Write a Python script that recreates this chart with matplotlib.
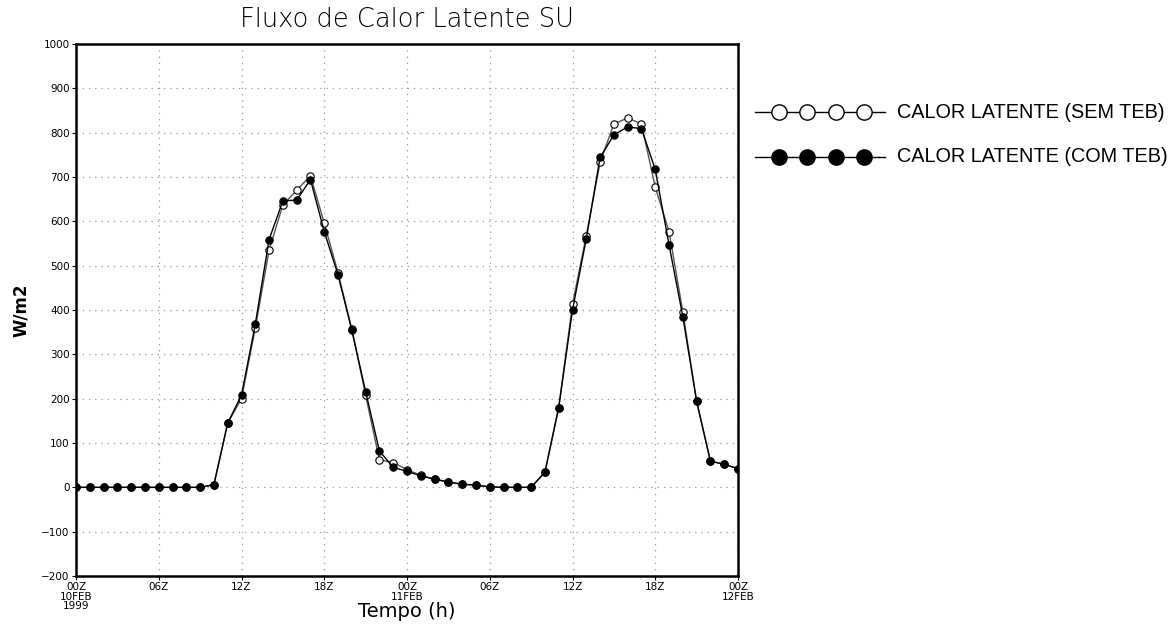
import matplotlib
matplotlib.use("Agg")
import matplotlib.pyplot as plt
from matplotlib.lines import Line2D

# Hourly series, 00Z 10FEB 1999 -> 00Z 12FEB 1999 (49 points)
hours = list(range(49))

sem_teb = [0, 0, 0, 0, 0, 0, 0, 0, 0, 0,
           6, 145, 200, 359, 535, 637, 670, 703, 596, 484,
           357, 208, 62, 56, 40, 27, 19, 12, 7, 5,
           1, 0, 0, 0, 34, 180, 413, 568, 733, 820,
           833, 820, 677, 577, 396, 194, 59, 52, 42]

com_teb = [0, 0, 0, 0, 0, 0, 0, 0, 0, 0,
           6, 145, 208, 368, 559, 646, 648, 694, 577, 479,
           354, 216, 82, 45, 36, 26, 18, 12, 7, 5,
           1, 0, 0, 0, 34, 180, 400, 561, 744, 795,
           813, 809, 717, 547, 385, 194, 59, 52, 42]

xtick_pos = [0, 6, 12, 18, 24, 30, 36, 42, 48]
xtick_labels = ["00Z\n10FEB\n1999", "06Z", "12Z", "18Z", "00Z\n11FEB",
                "06Z", "12Z", "18Z", "00Z\n12FEB"]
ytick_pos = list(range(-200, 1001, 100))
ytick_labels = [str(v).replace("-", "\u2212") for v in ytick_pos]

series_names = ["CALOR LATENTE (SEM TEB)", "CALOR LATENTE (COM TEB)"]

fig = plt.figure(figsize=(11.76, 6.26), dpi=100)
ax = fig.add_axes([76 / 1176, 50 / 626, 662 / 1176, 532 / 626])

ax.plot(hours, sem_teb, color="#555555", lw=1.0, marker="o", ms=5.3,
        mfc="white", mec="black", mew=0.8, zorder=3)
ax.plot(hours, com_teb, color="black", lw=1.0, marker="o", ms=5.3,
        mfc="black", mec="black", mew=0.8, zorder=4)

ax.set_xlim(0, 48)
ax.set_ylim(-200, 1000)
ax.set_xticks(xtick_pos)
ax.set_xticklabels(xtick_labels, family="Liberation Sans Narrow",
                   fontsize=7.5, linespacing=0.95)
ax.set_yticks(ytick_pos)
ax.set_yticklabels(ytick_labels, family="Liberation Sans Narrow", fontsize=7.5)
ax.tick_params(axis="both", direction="out", length=3, width=0.8, pad=1.5)

ax.grid(True, color="#999999", linestyle=(0, (1, 4)), linewidth=0.9)
for s in ax.spines.values():
    s.set_linewidth(1.8)

ax.set_title("Fluxo de Calor Latente SU", family="DejaVu Sans",
             fontweight="light", fontsize=18.5, color="black", pad=12)
ax.set_xlabel("Tempo (h)", family="DejaVu Sans", fontsize=14, labelpad=-7)
ax.set_ylabel("W/m2", family="DejaVu Sans", fontsize=12, fontweight="bold",
              labelpad=8)

# Legend drawn to the right of the plot area
leg_rows = [(112, "white"), (157, "black")]
for (ypix, face), name in zip(leg_rows, series_names):
    yf = 1 - ypix / 626
    fig.add_artist(Line2D([755 / 1176, 885 / 1176], [yf, yf],
                          transform=fig.transFigure, color="black", lw=1.0))
    fig.add_artist(Line2D([m / 1176 for m in (779, 807, 836, 864)], [yf] * 4,
                          transform=fig.transFigure, linestyle="none",
                          marker="o", ms=11, mfc=face, mec="black", mew=1.0))
    fig.text(897 / 1176, yf, name, family="Liberation Sans", fontsize=14.3,
             va="center", ha="left")

fig.savefig("out.png", dpi=100)
